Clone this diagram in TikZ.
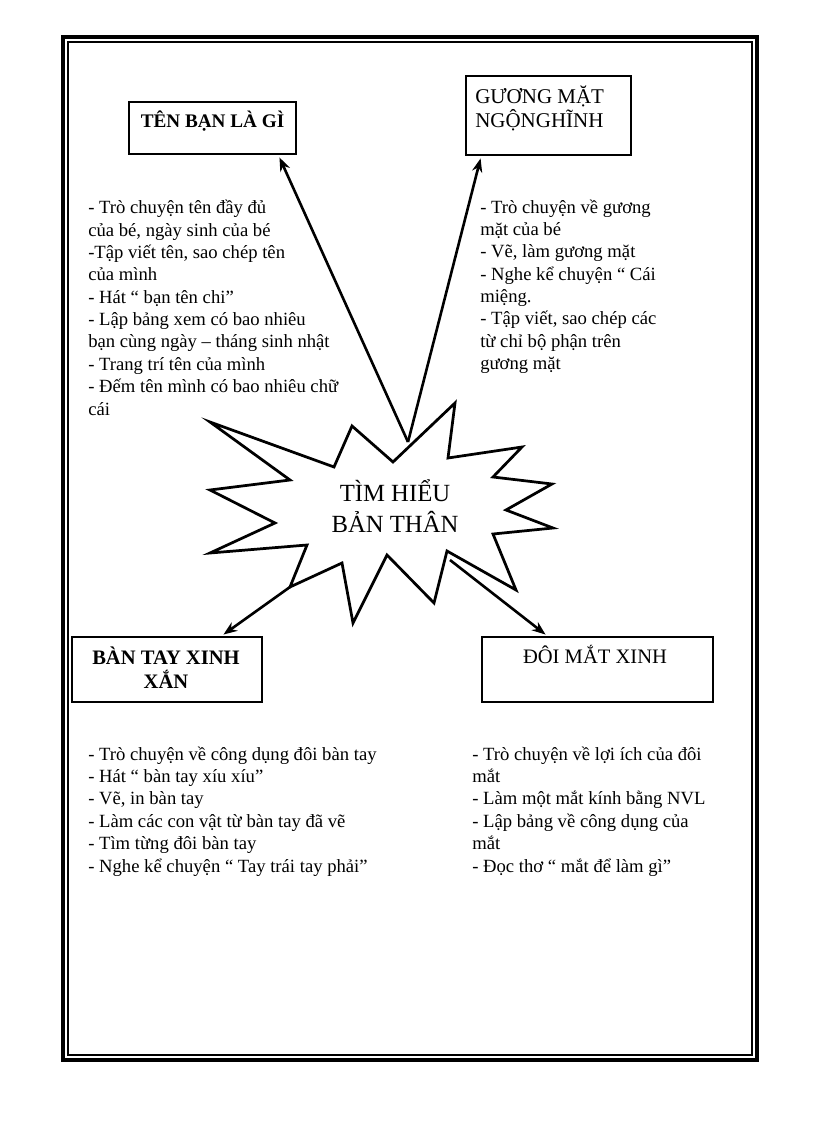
\documentclass[tikz,border=0pt]{standalone}
\usepackage{fontspec}
\setmainfont{Liberation Serif}
\usetikzlibrary{arrows.meta,calc}
\newcommand{\pxu}{0.7292pt}
\begin{document}
\begin{tikzpicture}[x=0.7292pt,y=-0.7292pt,
  box/.style={draw,line width=2.1pt,inner sep=0pt},
  body/.style={anchor=base west,inner sep=0pt,align=left,font=\fontsize{13.6}{16.3}\selectfont},
  conn/.style={line width=1.9pt,-{Stealth[length=10pt,width=7.5pt]}},
]
\useasboundingbox (0,0) rectangle (816,1123);
% page frame
\draw[line width=3pt] (63,37) rectangle (757,1060);
\draw[line width=0.8pt] (68,42) rectangle (752,1055);

% boxes
\node[box,minimum width=167*\pxu,minimum height=52*\pxu] (tenban) at (212.5,128) {};
\node[box,minimum width=165*\pxu,minimum height=79*\pxu] (guong) at (548.5,115.5) {};
\node[box,minimum width=190*\pxu,minimum height=65*\pxu] (bantay) at (167,669.5) {};
\node[box,minimum width=231*\pxu,minimum height=65*\pxu] (doimat) at (597.5,669.5) {};

% titles (multi-line nodes are placed by the baseline of their last line)
\node[anchor=base,inner sep=0pt,font=\fontsize{14}{16}\selectfont\bfseries] (tenbanT) at (212.5,128) {TÊN BẠN LÀ GÌ};
\node[anchor=base west,inner sep=0pt,align=left,font=\fontsize{15.3}{18.2}\selectfont] (guongT) at (475,128) {GƯƠNG MẶT\\NGỘNGHĨNH};
\node[anchor=base,inner sep=0pt,align=center,font=\fontsize{15}{17.5}\selectfont\bfseries] (bantayT) at (166,688) {BÀN TAY XINH\\XẮN};
\node[anchor=base,inner sep=0pt,font=\fontsize{15}{18}\selectfont] (doimatT) at (595,663) {ĐÔI MẮT XINH};

% star
\draw[line width=2pt,line join=miter,fill=white]
  (210,422) -- (290,480) -- (210,490) -- (275,523) -- (210,553) -- (307,545)
  -- (290,587) -- (342,563) -- (353,623) -- (387,555) -- (434,603) -- (447,551)
  -- (516,590) -- (493,534) -- (553,528) -- (506,510) -- (552,484) -- (493,477)
  -- (522,447) -- (448,458) -- (455,403) -- (393,462) -- (352,426) -- (334,467)
  -- cycle;
\node[anchor=base,inner sep=0pt,align=center,font=\fontsize{18}{21.9}\selectfont] (center) at (395,532) {TÌM HIỂU\\BẢN THÂN};

% connector start points on the star
\coordinate (s1) at (408,442);
\coordinate (s3) at (290,587);
\coordinate (s4) at (450,560);

\draw[conn] (s1) -- ($(tenban.south east)+(-18,2)$);
\draw[conn] (s1) -- ($(guong.south west)+(16,2)$);
\draw[conn] (s3) -- ($(bantay.north east)+(-40,-1)$);
\draw[conn] (s4) -- ($(doimat.north west)+(65,-1)$);

% activity lists
\node[body] (listA) at (88,415) {- Trò chuyện tên đầy đủ\\của bé, ngày sinh của bé\\-Tập viết tên, sao chép tên\\của mình\\- Hát “ bạn tên chi”\\- Lập bảng xem có bao nhiêu\\bạn cùng ngày – tháng sinh nhật\\- Trang trí tên của mình\\- Đếm tên mình có bao nhiêu  chữ\\cái};
\node[body] (listB) at (480,369.5) {- Trò chuyện về gương\\mặt của bé\\- Vẽ, làm gương mặt\\- Nghe kể chuyện “ Cái\\miệng.\\- Tập viết, sao chép các\\từ chỉ bộ phận trên\\gương mặt};
\node[body] (listC) at (88,872) {- Trò chuyện về công dụng đôi bàn tay\\- Hát “ bàn tay xíu xíu”\\- Vẽ, in bàn tay\\- Làm các con vật từ bàn tay đã vẽ\\- Tìm từng đôi bàn tay\\- Nghe kể chuyện “ Tay trái tay phải”};
\node[body] (listD) at (472,872) {- Trò chuyện về lợi ích của đôi\\mắt\\- Làm một mắt kính bằng NVL\\- Lập bảng về công dụng của\\mắt\\- Đọc thơ “ mắt để làm gì”};
\end{tikzpicture}
\end{document}
